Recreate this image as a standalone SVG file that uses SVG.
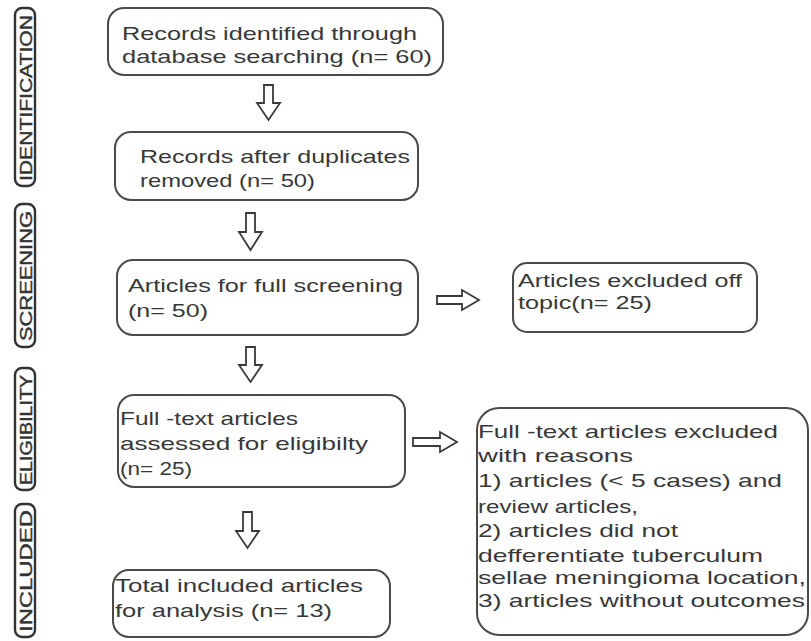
<svg xmlns="http://www.w3.org/2000/svg" width="811" height="641" viewBox="0 0 811 641">
<style>
.box{fill:#fff;stroke:#4a4a4a;stroke-width:2}
.t{font-family:"Liberation Sans",Arial,sans-serif;font-size:19px;fill:#383838}
.ts{font-family:"Liberation Sans",Arial,sans-serif;font-size:18px;fill:#383838}
.side{font-family:"Liberation Sans",Arial,sans-serif;font-size:17px;fill:#333;stroke:#333;stroke-width:0.4}
.sbox{fill:#fff;stroke:#333;stroke-width:2.4}
.arr{fill:#fff;stroke:#3a3a3a;stroke-width:1.8;stroke-linejoin:miter}
</style>
<rect width="811" height="641" fill="#fff"/>
<g id="stage-identification"><rect class="sbox" x="15" y="8" width="20" height="178" rx="7"/><text class="side" transform="translate(31.5,181) rotate(-90)" textLength="166" lengthAdjust="spacingAndGlyphs">IDENTIFICATION</text></g>
<g id="stage-screening"><rect class="sbox" x="15" y="204" width="20" height="143" rx="7"/><text class="side" transform="translate(31.5,341) rotate(-90)" textLength="130" lengthAdjust="spacingAndGlyphs">SCREENING</text></g>
<g id="stage-eligibility"><rect class="sbox" x="15" y="368" width="20" height="122" rx="7"/><text class="side" transform="translate(31.5,485) rotate(-90)" textLength="110" lengthAdjust="spacingAndGlyphs">ELIGIBILITY</text></g>
<g id="stage-included"><rect class="sbox" x="15" y="504" width="20" height="133" rx="7"/><text class="side" transform="translate(31.5,632) rotate(-90)" textLength="122" lengthAdjust="spacingAndGlyphs">INCLUDED</text></g>

<g id="n1"><rect class="box" x="108" y="8" width="335" height="67" rx="16"/>
<text class="t" x="122" y="40" textLength="295" lengthAdjust="spacingAndGlyphs">Records identified through</text>
<text class="t" x="122" y="63" textLength="310" lengthAdjust="spacingAndGlyphs">database searching (n= 60)</text></g>

<g id="n2"><rect class="box" x="115" y="132" width="303" height="68" rx="16"/>
<text class="t" x="140" y="163" textLength="270" lengthAdjust="spacingAndGlyphs">Records after duplicates</text>
<text class="t" x="140" y="187" textLength="175" lengthAdjust="spacingAndGlyphs">removed (n= 50)</text></g>

<g id="n3"><rect class="box" x="117" y="260" width="301" height="75" rx="16"/>
<text class="t" x="128" y="292" textLength="275" lengthAdjust="spacingAndGlyphs">Articles for full screening</text>
<text class="t" x="128" y="317" textLength="80" lengthAdjust="spacingAndGlyphs">(n= 50)</text></g>

<g id="n4"><rect class="box" x="118" y="395" width="287" height="92" rx="16"/>
<text class="t" x="120" y="425" textLength="178" lengthAdjust="spacingAndGlyphs">Full -text articles</text>
<text class="t" x="120" y="450" textLength="248" lengthAdjust="spacingAndGlyphs">assessed for eligibilty</text>
<text class="t" x="120" y="475" textLength="72" lengthAdjust="spacingAndGlyphs">(n= 25)</text></g>

<g id="n5"><rect class="box" x="113" y="570" width="277" height="67" rx="16"/>
<text class="t" x="115" y="592" textLength="248" lengthAdjust="spacingAndGlyphs">Total included articles</text>
<text class="t" x="115" y="617" textLength="217" lengthAdjust="spacingAndGlyphs">for analysis (n= 13)</text></g>

<g id="e1"><rect class="box" x="513" y="263" width="244" height="69" rx="14"/>
<text class="ts" x="518" y="287" textLength="224" lengthAdjust="spacingAndGlyphs">Articles excluded off</text>
<text class="ts" x="518" y="309" textLength="134" lengthAdjust="spacingAndGlyphs">topic(n= 25)</text></g>

<g id="e2"><rect class="box" x="477" y="408" width="331" height="227" rx="22"/>
<text class="t" x="478" y="438" textLength="300" lengthAdjust="spacingAndGlyphs">Full -text articles excluded</text>
<text class="t" x="478" y="462" textLength="155" lengthAdjust="spacingAndGlyphs">with reasons</text>
<text class="t" x="478" y="487" textLength="304" lengthAdjust="spacingAndGlyphs">1) articles (&lt; 5 cases) and</text>
<text class="t" x="478" y="513" textLength="160" lengthAdjust="spacingAndGlyphs">review articles,</text>
<text class="t" x="478" y="537" textLength="200" lengthAdjust="spacingAndGlyphs">2) articles did not</text>
<text class="t" x="478" y="562" textLength="285" lengthAdjust="spacingAndGlyphs">defferentiate tuberculum</text>
<text class="t" x="478" y="584" textLength="328" lengthAdjust="spacingAndGlyphs">sellae meningioma location,</text>
<text class="t" x="478" y="607" textLength="327" lengthAdjust="spacingAndGlyphs">3) articles without outcomes</text></g>

<g id="connectors">
<path class="arr" d="M264,85 H273 V103 H280 L268.5,120 L257,103 H264 Z"/>
<path class="arr" d="M246,213 H255 V232 H262 L250.5,250 L239,232 H246 Z"/>
<path class="arr" d="M246,347 H255 V365 H262 L250.5,382 L239,365 H246 Z"/>
<path class="arr" d="M243,512 H252 V531 H259 L247.5,548 L236,531 H243 Z"/>
<path class="arr" d="M437,296 H462 V290 L479,300 L462,310 V304 H437 Z"/>
<path class="arr" d="M413,438 H440 V432 L457,442 L440,452 V446 H413 Z"/>
</g>
</svg>
